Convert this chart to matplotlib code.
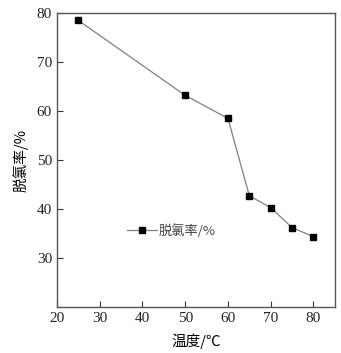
import matplotlib.pyplot as plt

plt.rcParams['font.family'] = ['Liberation Serif', 'Noto Sans CJK SC']

# Dechlorination rate vs temperature
temperature = [25, 50, 60, 65, 70, 75, 80]
dechlorination = [78.5, 63.2, 58.5, 42.7, 40.3, 36.2, 34.4]

fig = plt.figure(figsize=(3.41, 3.53), dpi=100)
ax = fig.add_axes([0.167, 0.130, 0.815, 0.833])

ax.plot(temperature, dechlorination, color='#808080', linewidth=0.9,
        marker='s', markersize=5, markerfacecolor='black', markeredgecolor='black',
        label='脱氯率/%')

ax.set_xlim(20, 85)
ax.set_ylim(20, 80)
ax.set_xticks([20, 30, 40, 50, 60, 70, 80])
ax.set_yticks([30, 40, 50, 60, 70, 80])
ax.tick_params(direction='in', length=4, width=0.8, labelsize=11, colors='#333333')
for tl in ax.get_xticklabels() + ax.get_yticklabels():
    tl.set_color('#222222')
for s in ax.spines.values():
    s.set_color('#555555')
    s.set_linewidth(1.0)

ax.set_xlabel('温度/℃', fontsize=10.5, labelpad=6, family=['Noto Sans CJK SC', 'DejaVu Sans'])
ax.set_ylabel('脱氯率/%', fontsize=10.5, labelpad=6, family=['Noto Sans CJK SC', 'DejaVu Sans'])

leg = ax.legend(loc='center left', bbox_to_anchor=(0.233, 0.26), frameon=False,
                handlelength=2.3, handletextpad=0.1, borderaxespad=0,
                prop={'family': ['Noto Sans CJK SC', 'DejaVu Sans'], 'size': 9.5})
for t in leg.get_texts():
    t.set_color('#444444')

fig.savefig('out.png', dpi=100)
